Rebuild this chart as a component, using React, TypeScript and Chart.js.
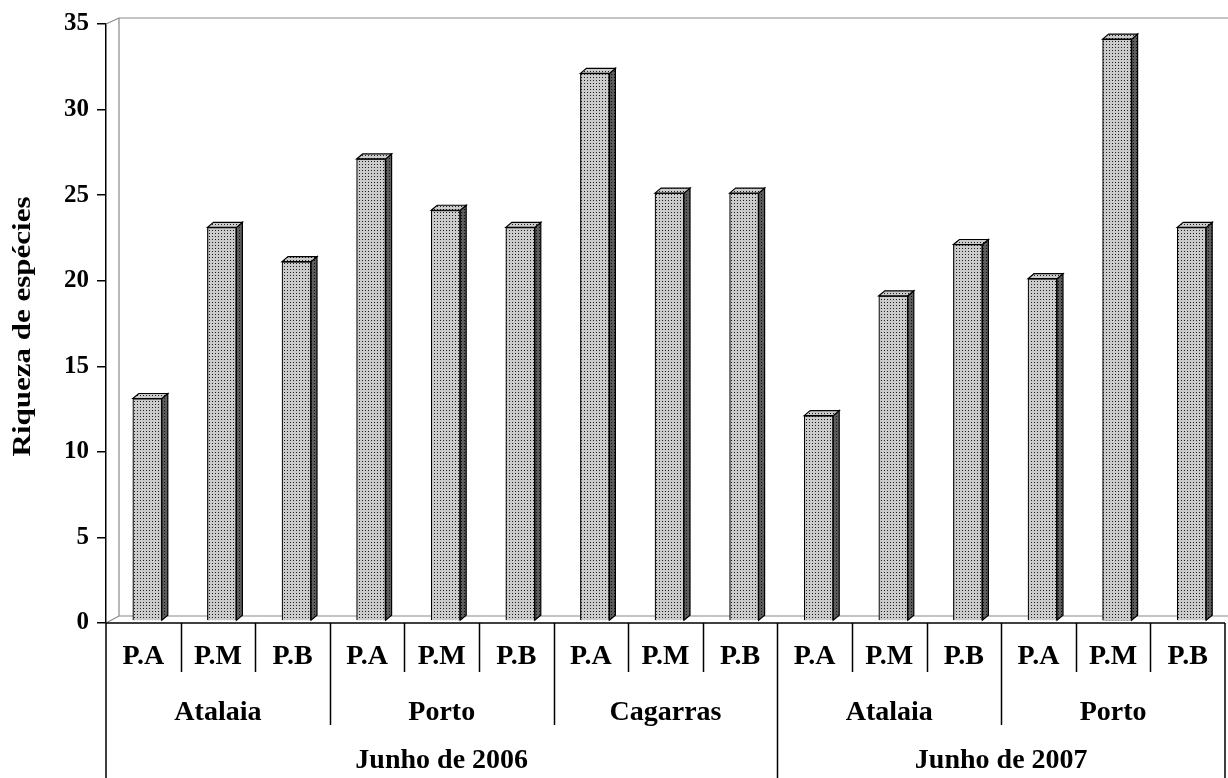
import React, { useEffect, useRef } from "react";
import { Chart, registerables } from "chart.js";

Chart.register(...registerables);

// Species richness per sampling point (P.A / P.M / P.B), grouped by site and campaign
const pontos = ["P.A", "P.M", "P.B", "P.A", "P.M", "P.B", "P.A", "P.M", "P.B", "P.A", "P.M", "P.B", "P.A", "P.M", "P.B"];
const riqueza = [13, 23, 21, 27, 24, 23, 32, 25, 25, 12, 19, 22, 20, 34, 23];
const locais = ["Atalaia", "Porto", "Cagarras", "Atalaia", "Porto"];
const pontosPorLocal = [3, 3, 3, 3, 3];
const campanhas = ["Junho de 2006", "Junho de 2007"];
const locaisPorCampanha = [3, 2];
const eixoY = { min: 0, max: 35, step: 5 };
const tituloY = "Riqueza de espécies";

const FONT = "'Liberation Serif', 'Times New Roman', Times, serif";
const WALL = { dx: 13, dy: -6 };
const BAR_SHIFT = { dx: 4, dy: -2 };
const BAR_DEPTH = { dx: 6, dy: -5 };

function makePattern(bg: string, dot: string): CanvasPattern {
  const c = document.createElement("canvas");
  c.width = 3;
  c.height = 3;
  const g = c.getContext("2d")!;
  g.fillStyle = bg;
  g.fillRect(0, 0, 3, 3);
  g.fillStyle = dot;
  g.fillRect(1, 1, 1, 1);
  return g.createPattern(c, "repeat")!;
}

function makePlugin(light: CanvasPattern, dark: CanvasPattern) {
  return {
    id: "box3d",
    beforeDatasetsDraw(chart: any) {
      const { ctx, chartArea, width } = chart;
      const { left, top, bottom } = chartArea;
      // back wall and floor of the 3D box
      ctx.save();
      ctx.strokeStyle = "#8a8a8a";
      ctx.lineWidth = 1.2;
      ctx.beginPath();
      ctx.moveTo(left, top);
      ctx.lineTo(left + WALL.dx, top + WALL.dy);
      ctx.lineTo(width, top + WALL.dy);
      ctx.moveTo(left + WALL.dx, top + WALL.dy);
      ctx.lineTo(left + WALL.dx, bottom + WALL.dy - 1);
      ctx.moveTo(left, bottom);
      ctx.lineTo(left + WALL.dx, bottom + WALL.dy - 1);
      ctx.lineTo(width, bottom + WALL.dy - 1);
      ctx.stroke();
      ctx.restore();
      // bars stand in the middle of the box depth
      ctx.save();
      ctx.translate(BAR_SHIFT.dx, BAR_SHIFT.dy);
    },
    afterDatasetsDraw(chart: any) {
      const { ctx } = chart;
      const meta = chart.getDatasetMeta(0);
      ctx.lineWidth = 1.2;
      ctx.strokeStyle = "#000";
      meta.data.forEach((el: any) => {
        const { x, y, base, width } = el.getProps(["x", "y", "base", "width"], true);
        const L = x - width / 2;
        const R = x + width / 2;
        // side face
        ctx.beginPath();
        ctx.moveTo(R, y);
        ctx.lineTo(R + BAR_DEPTH.dx, y + BAR_DEPTH.dy);
        ctx.lineTo(R + BAR_DEPTH.dx, base + BAR_DEPTH.dy);
        ctx.lineTo(R, base);
        ctx.closePath();
        ctx.fillStyle = dark;
        ctx.fill();
        ctx.stroke();
        // top face
        ctx.beginPath();
        ctx.moveTo(L, y);
        ctx.lineTo(L + BAR_DEPTH.dx, y + BAR_DEPTH.dy);
        ctx.lineTo(R + BAR_DEPTH.dx, y + BAR_DEPTH.dy);
        ctx.lineTo(R, y);
        ctx.closePath();
        ctx.fillStyle = light;
        ctx.fill();
        ctx.stroke();
      });
      ctx.restore();
    },
    afterDraw(chart: any) {
      const { ctx, chartArea, height } = chart;
      const { left, right, bottom, top } = chartArea;
      const xs = chart.scales.x;
      const n = pontos.length;
      const center = (i: number) => xs.getPixelForValue(i);
      const edge = (k: number) =>
        k <= 0 ? left : k >= n ? right : (center(k - 1) + center(k)) / 2;

      ctx.save();
      ctx.strokeStyle = "#000";
      ctx.lineWidth = 1.5;
      ctx.beginPath();
      ctx.moveTo(left, bottom);
      ctx.lineTo(right, bottom);
      // outer edges of the category table
      ctx.moveTo(left, bottom);
      ctx.lineTo(left, height);
      ctx.moveTo(right, bottom);
      ctx.lineTo(right, height);
      // point dividers
      for (let k = 1; k < n; k++) {
        const xk = Math.round(edge(k)) + 0.5;
        ctx.moveTo(xk, bottom);
        ctx.lineTo(xk, bottom + 49);
      }
      // site dividers
      let acc = 0;
      const siteStart: number[] = [];
      locais.forEach((_, j) => {
        siteStart.push(acc);
        acc += pontosPorLocal[j];
        if (acc < n) {
          const xk = Math.round(edge(acc)) + 0.5;
          ctx.moveTo(xk, bottom);
          ctx.lineTo(xk, bottom + 102);
        }
      });
      // campaign dividers
      let s = 0;
      let cat = 0;
      const campStart: number[] = [];
      const campEnd: number[] = [];
      locaisPorCampanha.forEach((cnt) => {
        campStart.push(cat);
        for (let j = 0; j < cnt; j++) cat += pontosPorLocal[s + j];
        s += cnt;
        campEnd.push(cat);
        if (cat < n) {
          const xk = Math.round(edge(cat)) + 0.5;
          ctx.moveTo(xk, bottom);
          ctx.lineTo(xk, height);
        }
      });
      ctx.stroke();

      ctx.fillStyle = "#000";
      ctx.textAlign = "center";
      ctx.textBaseline = "alphabetic";
      ctx.font = `bold 28px ${FONT}`;
      pontos.forEach((p, i) => ctx.fillText(p, center(i), bottom + 41));
      locais.forEach((nome, j) => {
        const a = siteStart[j];
        const b = a + pontosPorLocal[j];
        ctx.fillText(nome, (edge(a) + edge(b)) / 2, bottom + 97);
      });
      campanhas.forEach((nome, j) => {
        ctx.fillText(nome, (edge(campStart[j]) + edge(campEnd[j])) / 2, bottom + 145);
      });

      // y axis title, rotated
      ctx.translate(30, (top + bottom) / 2 + 3);
      ctx.rotate(-Math.PI / 2);
      ctx.scale(1, 0.82);
      ctx.font = `bold 31px ${FONT}`;
      ctx.textAlign = "center";
      ctx.fillText(tituloY, 0, 0);
      ctx.restore();
    },
  };
}

export default function App() {
  const ref = useRef<HTMLCanvasElement>(null);

  useEffect(() => {
    document.body.style.margin = "0";
    const canvas = ref.current!;
    const light = makePattern("#cbcbcb", "#1e1e1e");
    const dark = makePattern("#5c5c5c", "#111111");

    const chart = new Chart(canvas, {
      type: "bar",
      data: {
        labels: pontos,
        datasets: [
          {
            data: riqueza,
            backgroundColor: light as any,
            borderColor: "#000",
            borderWidth: 1.2,
            barThickness: 29,
            clip: false as any,
          },
        ],
      },
      options: {
        responsive: false,
        animation: false,
        devicePixelRatio: 1,
        events: [],
        layout: { padding: { top: 24, right: 3, bottom: 155, left: 0 } },
        plugins: {
          legend: { display: false },
          tooltip: { enabled: false },
          title: { display: false },
        },
        scales: {
          x: { display: false, offset: true },
          y: {
            min: eixoY.min,
            max: eixoY.max,
            afterFit: (scale: any) => {
              scale.width = 106;
            },
            ticks: {
              stepSize: eixoY.step,
              color: "#000",
              padding: 8,
              font: { family: FONT, size: 25, weight: "bold" },
            },
            grid: {
              drawOnChartArea: false,
              drawTicks: true,
              tickLength: 9,
              color: "#000",
              lineWidth: 1.5,
            },
            border: { display: true, color: "#000", width: 1.5 },
          },
        },
      },
      plugins: [makePlugin(light, dark)],
    });

    return () => chart.destroy();
  }, []);

  return (
    <canvas
      ref={ref}
      width={1228}
      height={778}
      style={{ display: "block", width: 1228, height: 778 }}
    />
  );
}
